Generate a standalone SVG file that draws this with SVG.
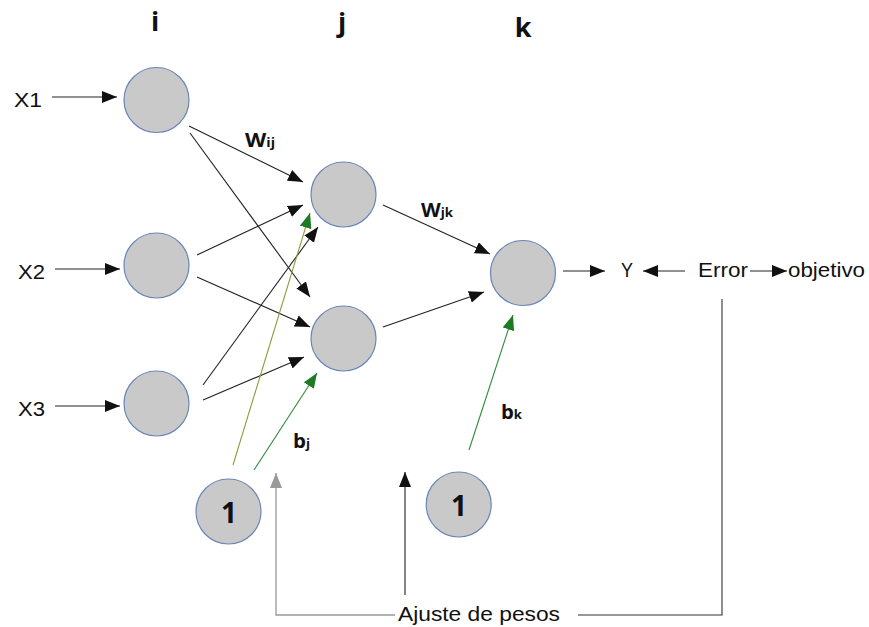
<svg xmlns="http://www.w3.org/2000/svg" width="869" height="627" viewBox="0 0 869 627">
<style>
.node{fill:#c9c9c9;stroke:#6a86b8;stroke-width:1.2}
.lbl{font-family:"Liberation Sans",Arial,sans-serif;font-size:21px;fill:#111}
.bold{font-family:"Open Sans","Liberation Sans",sans-serif;font-weight:700;fill:#111}
.c{stroke:#222;stroke-width:1.1;fill:none;marker-end:url(#ah)}
.g{stroke:#2e8b3a;stroke-width:1.1;fill:none;marker-end:url(#ahg)}
.o{stroke:#8f9a3a;stroke-width:1.1;fill:none;marker-end:url(#ahg)}
.p{stroke:#333;stroke-width:1.1;fill:none}
</style>
<defs>
<marker id="ah" markerUnits="userSpaceOnUse" markerWidth="17" markerHeight="13" refX="15" refY="6" orient="auto"><path d="M0,0 L15,6 L0,12 Z" fill="#111"/></marker>
<marker id="ahg" markerUnits="userSpaceOnUse" markerWidth="17" markerHeight="13" refX="15" refY="6" orient="auto"><path d="M0,0 L15,6 L0,12 Z" fill="#1f7a24"/></marker>
<marker id="ahgray" markerUnits="userSpaceOnUse" markerWidth="17" markerHeight="13" refX="15" refY="6" orient="auto"><path d="M0,0 L15,6 L0,12 Z" fill="#999"/></marker>
</defs>
<rect width="869" height="627" fill="#fff"/>
<g id="headers">
<text class="bold" x="155" y="31" font-size="27" text-anchor="middle">i</text>
<text class="bold" x="342" y="32" font-size="27" text-anchor="middle">j</text>
<text class="bold" x="523" y="37" font-size="27" text-anchor="middle">k</text>
</g>
<g id="connectors">
<line class="c" x1="52" y1="97" x2="117" y2="97"/>
<line class="c" x1="55" y1="269" x2="120" y2="269"/>
<line class="c" x1="55" y1="406" x2="120" y2="406"/>
<line class="c" x1="189" y1="126" x2="303" y2="182"/>
<line class="c" x1="190" y1="133" x2="310" y2="297"/>
<line class="c" x1="197" y1="255" x2="303" y2="205"/>
<line class="c" x1="197" y1="277" x2="310" y2="327"/>
<line class="c" x1="203" y1="385" x2="318" y2="227"/>
<line class="c" x1="203" y1="400" x2="304" y2="357"/>
<line class="o" x1="233" y1="465" x2="310" y2="213"/>
<line class="g" x1="254" y1="470" x2="317" y2="373"/>
<line class="g" x1="469" y1="450" x2="513" y2="315"/>
<line class="c" x1="383" y1="205" x2="490" y2="254"/>
<line class="c" x1="383" y1="327" x2="484" y2="292"/>
<line class="c" x1="563" y1="271" x2="605" y2="271"/>
<line class="c" x1="685" y1="271" x2="643" y2="271"/>
<line class="c" x1="750" y1="271" x2="787" y2="271"/>
<polyline class="p" points="722,299 722,615 578,615"/>
<polyline points="395,615 276,615 276,473" fill="none" stroke="#999" stroke-width="1.3" marker-end="url(#ahgray)"/>
<line class="c" x1="405" y1="595" x2="405" y2="472"/>
</g>
<g id="inputs">
<text class="lbl" x="14" y="107" textLength="28" lengthAdjust="spacingAndGlyphs">X1</text>
<text class="lbl" x="18" y="279" textLength="27" lengthAdjust="spacingAndGlyphs">X2</text>
<text class="lbl" x="18" y="416" textLength="27" lengthAdjust="spacingAndGlyphs">X3</text>
</g>
<g id="i1"><circle class="node" cx="156.5" cy="100" r="32.5"/></g>
<g id="i2"><circle class="node" cx="156.5" cy="265.5" r="32.5"/></g>
<g id="i3"><circle class="node" cx="156.5" cy="403.5" r="32.5"/></g>
<g id="j1"><circle class="node" cx="343.5" cy="194.5" r="32.5"/></g>
<g id="j2"><circle class="node" cx="343.5" cy="338.5" r="32.5"/></g>
<g id="k1"><circle class="node" cx="523" cy="273" r="32.5"/></g>
<g id="bias1"><circle class="node" cx="228.5" cy="511.5" r="32.5"/><text class="bold" x="229" y="523" font-size="28" text-anchor="middle">1</text></g>
<g id="bias2"><circle class="node" cx="458.7" cy="504.5" r="32.5"/><text class="bold" x="459" y="516" font-size="28" text-anchor="middle">1</text></g>
<g id="weights">
<text class="bold" x="245" y="147" font-size="20" textLength="30" lengthAdjust="spacingAndGlyphs">W<tspan font-size="13">ij</tspan></text>
<text class="bold" x="421" y="217" font-size="20" textLength="32" lengthAdjust="spacingAndGlyphs">W<tspan font-size="13">jk</tspan></text>
<text class="bold" x="293" y="448" font-size="20" textLength="17" lengthAdjust="spacingAndGlyphs">b<tspan font-size="13">j</tspan></text>
<text class="bold" x="501" y="419" font-size="20" textLength="21" lengthAdjust="spacingAndGlyphs">b<tspan font-size="13">k</tspan></text>
</g>
<g id="outputs">
<text class="lbl" x="621" y="277" textLength="12" lengthAdjust="spacingAndGlyphs">Y</text>
<text class="lbl" x="698" y="277" textLength="50" lengthAdjust="spacingAndGlyphs">Error</text>
<text class="lbl" x="788" y="277" textLength="77" lengthAdjust="spacingAndGlyphs">objetivo</text>
<text class="lbl" x="398" y="621" textLength="162" lengthAdjust="spacingAndGlyphs">Ajuste de pesos</text>
</g>
</svg>
